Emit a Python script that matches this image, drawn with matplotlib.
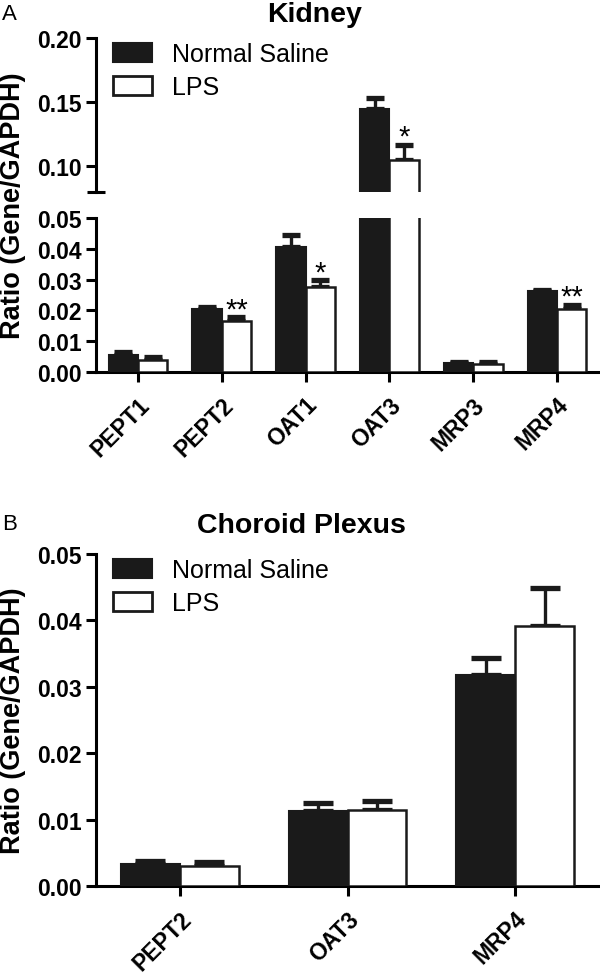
import numpy as np
import matplotlib
matplotlib.use("Agg")
import matplotlib.pyplot as plt
from matplotlib.ticker import FormatStrFormatter
from matplotlib.patches import Patch

plt.rcParams['font.family'] = ['Liberation Sans', 'DejaVu Sans']

# panel A: kidney
kid_genes   = ["PEPT1", "PEPT2", "OAT1", "OAT3", "MRP3", "MRP4"]
kid_ns      = [0.0055, 0.0205, 0.0405, 0.145, 0.0028, 0.0262]
kid_ns_err  = [0.0010, 0.0005, 0.0040, 0.008, 0.0004, 0.0005]
kid_lps     = [0.0040, 0.0165, 0.0275, 0.105, 0.0026, 0.0205]
kid_lps_err = [0.0008, 0.0012, 0.0023, 0.012, 0.0005, 0.0013]
kid_sig     = ["", "**", "*", "*", "", "**"]

# panel B: choroid plexus
cp_genes   = ["PEPT2", "OAT3", "MRP4"]
cp_ns      = [0.0033, 0.0113, 0.0318]
cp_ns_err  = [0.0004, 0.0012, 0.0026]
cp_lps     = [0.0030, 0.0115, 0.0392]
cp_lps_err = [0.0006, 0.0013, 0.0057]

DARK = '#1a1a1a'
W = 0.35
SPINE = 2.2


def style_axis(ax, with_x=True):
    for s in ['top', 'right']:
        ax.spines[s].set_visible(False)
    ax.spines['left'].set_linewidth(SPINE)
    ax.spines['bottom'].set_linewidth(SPINE)
    if not with_x:
        ax.spines['bottom'].set_visible(False)
        ax.tick_params(axis='x', which='both', bottom=False, labelbottom=False)
    ax.tick_params(axis='both', which='major', direction='out', length=7,
                   width=SPINE, labelsize=16.5)
    ax.yaxis.set_major_formatter(FormatStrFormatter('%.2f'))
    for lab in ax.get_yticklabels():
        lab.set_fontweight('bold')


def draw_bars(ax, genes, ns, ns_err, lps, lps_err, capsize, sig=None):
    x = np.arange(len(genes))
    ax.bar(x - W / 2, ns, W, color=DARK, edgecolor=DARK, linewidth=1.5, zorder=3)
    ax.bar(x + W / 2, lps, W, color='white', edgecolor=DARK, linewidth=1.8, zorder=3)
    ax.errorbar(x - W / 2, ns, yerr=[np.zeros(len(ns)), ns_err], fmt='none',
                ecolor=DARK, elinewidth=2.4, capsize=capsize, capthick=3.8, zorder=2)
    ax.errorbar(x + W / 2, lps, yerr=[np.zeros(len(lps)), lps_err], fmt='none',
                ecolor=DARK, elinewidth=2.4, capsize=capsize, capthick=3.8, zorder=2)
    if sig is not None:
        for xi, v, e, s in zip(x + W / 2, lps, lps_err, sig):
            if s:
                ax.annotate(s, xy=(xi, v + e), xytext=(0, 0), textcoords='offset points',
                            ha='center', va='baseline', fontsize=21,
                            annotation_clip=True, clip_on=True)
    ax.set_xlim(-0.5, len(genes) - 0.5)
    return x


fig = plt.figure(figsize=(6, 9.78), dpi=100)

# Kidney, broken axis
ax_top = fig.add_axes([96 / 600, 1 - 193 / 978, 503 / 600, 154 / 978])
ax_bot = fig.add_axes([96 / 600, 1 - 373 / 978, 503 / 600, 154 / 978])

draw_bars(ax_top, kid_genes, kid_ns, kid_ns_err, kid_lps, kid_lps_err, 6.5, kid_sig)
x = draw_bars(ax_bot, kid_genes, kid_ns, kid_ns_err, kid_lps, kid_lps_err, 6.5, kid_sig)

ax_top.set_ylim(0.08, 0.20)
ax_top.set_yticks([0.10, 0.15, 0.20])
ax_top.set_yticks([0.08], minor=True)
ax_bot.set_ylim(0, 0.05)
ax_bot.set_yticks([0, 0.01, 0.02, 0.03, 0.04, 0.05])
ax_bot.set_xticks(x)
ax_bot.set_xticklabels(kid_genes, rotation=45, ha='right', rotation_mode='anchor',
                       fontsize=18, fontweight='bold')
style_axis(ax_top, with_x=False)
style_axis(ax_bot)
ax_top.tick_params(axis='y', which='minor', direction='inout', length=13, width=SPINE)
ax_top.yaxis.set_minor_formatter(plt.NullFormatter())

# Choroid plexus
ax_b = fig.add_axes([96 / 600, 1 - 887 / 978, 503 / 600, 332 / 978])
xb = draw_bars(ax_b, cp_genes, cp_ns, cp_ns_err, cp_lps, cp_lps_err, 11)
ax_b.set_ylim(0, 0.05)
ax_b.set_yticks([0, 0.01, 0.02, 0.03, 0.04, 0.05])
ax_b.set_xticks(xb)
ax_b.set_xticklabels(cp_genes, rotation=45, ha='right', rotation_mode='anchor',
                     fontsize=18, fontweight='bold')
style_axis(ax_b)

for ax in (ax_bot, ax_b):
    ax.tick_params(axis='x', pad=8)

handles = [Patch(facecolor=DARK, edgecolor=DARK, linewidth=1.5, label='Normal Saline'),
           Patch(facecolor='white', edgecolor=DARK, linewidth=2, label='LPS')]
for ax, ytop in ((ax_top, 1 - 4 / 154), (ax_b, 1 - 4 / 332)):
    ax.legend(handles=handles, loc='upper left', bbox_to_anchor=(17 / 503, ytop),
              frameon=False, fontsize=18, borderpad=0, borderaxespad=0,
              handlelength=1.56, handleheight=0.8, handletextpad=0.8,
              labelspacing=0.35)

# titles, panel letters, y labels
fig.text(315 / 600, 1 - 15 / 978, 'Kidney', ha='center', va='center',
         fontsize=20.5, fontweight='bold')
fig.text(301 / 600, 1 - 526 / 978, 'Choroid Plexus', ha='center', va='center',
         fontsize=20.5, fontweight='bold')
fig.text(2 / 600, 1 - 14 / 978, 'A', ha='left', va='center', fontsize=16)
fig.text(2 / 600, 1 - 524 / 978, 'B', ha='left', va='center', fontsize=16)
fig.text(13 / 600, 1 - 206 / 978, 'Ratio (Gene/GAPDH)', rotation=90, ha='center',
         va='center', fontsize=19.5, fontweight='bold')
fig.text(13 / 600, 1 - 721 / 978, 'Ratio (Gene/GAPDH)', rotation=90, ha='center',
         va='center', fontsize=19.5, fontweight='bold')

fig.savefig('out.png', dpi=100)
